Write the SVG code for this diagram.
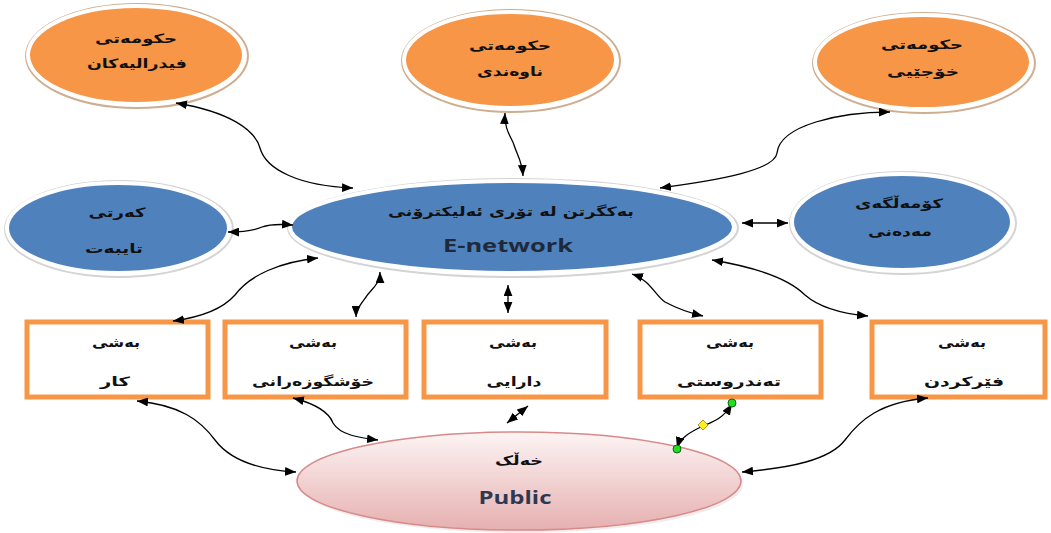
<svg xmlns="http://www.w3.org/2000/svg" width="1051" height="533" viewBox="0 0 1051 533">
<defs>
<marker id="ah" viewBox="0 0 10 8" refX="10" refY="4" markerWidth="11" markerHeight="9" markerUnits="userSpaceOnUse" orient="auto-start-reverse">
<path d="M0,0 L10,4 L0,8 Z" fill="#000"/>
</marker>
<linearGradient id="pg" x1="0" y1="0" x2="0" y2="1">
<stop offset="0" stop-color="#fdf4f4"/>
<stop offset="1" stop-color="#e6b0b0"/>
</linearGradient>
<style>
.org{fill:#F79646;stroke:#fff;stroke-width:4}
.blu{fill:#4F81BD;stroke:#fff;stroke-width:4}
.rimO{fill:none;stroke:#cfae90;stroke-width:2}
.rimB{fill:none;stroke:#d4d4d4;stroke-width:2}
.box{fill:#fff;stroke:#F79646;stroke-width:5}
.ar{font-family:"DejaVu Sans",sans-serif;font-weight:bold;font-size:13px;fill:#111;text-anchor:middle}
.en{font-family:"Open Sans","Liberation Sans",sans-serif;font-weight:bold;font-size:17px;fill:#1e2a3a;text-anchor:middle}
.c{fill:none;stroke:#000;stroke-width:1.3;marker-start:url(#ah);marker-end:url(#ah)}
</style>
</defs>
<rect width="1051" height="533" fill="#fff"/>

<g id="gov-federal">
<ellipse class="rimO" cx="137" cy="56" rx="111" ry="52"/>
<ellipse class="org" cx="136" cy="55" rx="108" ry="49"/>
<text class="ar" x="136" y="43" textLength="82" lengthAdjust="spacingAndGlyphs">حکومەتی</text>
<text class="ar" x="137" y="68" textLength="100" lengthAdjust="spacingAndGlyphs">فیدرالیەکان</text>
</g>

<g id="gov-central">
<ellipse class="rimO" cx="511" cy="61" rx="109" ry="51"/>
<ellipse class="org" cx="510" cy="60" rx="106" ry="48"/>
<text class="ar" x="510" y="50" textLength="82" lengthAdjust="spacingAndGlyphs">حکومەتی</text>
<text class="ar" x="510" y="76" textLength="66" lengthAdjust="spacingAndGlyphs">ناوەندی</text>
</g>

<g id="gov-local">
<ellipse class="rimO" cx="924" cy="63" rx="111" ry="50"/>
<ellipse class="org" cx="923" cy="62" rx="108" ry="47"/>
<text class="ar" x="922" y="49" textLength="82" lengthAdjust="spacingAndGlyphs">حکومەتی</text>
<text class="ar" x="923" y="76" textLength="72" lengthAdjust="spacingAndGlyphs">خۆجێیی</text>
</g>

<g id="private-sector">
<ellipse class="rimB" cx="119" cy="229" rx="114" ry="48"/>
<ellipse class="blu" cx="118" cy="228" rx="111" ry="45"/>
<text class="ar" x="117" y="217" textLength="57" lengthAdjust="spacingAndGlyphs">کەرتی</text>
<text class="ar" x="114" y="253" textLength="58" lengthAdjust="spacingAndGlyphs">تایبەت</text>
</g>

<g id="e-network">
<ellipse class="rimB" cx="513" cy="228" rx="225" ry="49"/>
<ellipse class="blu" cx="512" cy="227" rx="222" ry="46"/>
<text class="ar" x="511" y="216" textLength="246" lengthAdjust="spacingAndGlyphs">بەکگرتن لە تۆری ئەلیکترۆنی</text>
<text class="en" x="508" y="252" textLength="130" lengthAdjust="spacingAndGlyphs">E-network</text>
</g>

<g id="civil-society">
<ellipse class="rimB" cx="903" cy="223" rx="113" ry="51"/>
<ellipse class="blu" cx="902" cy="222" rx="110" ry="48"/>
<text class="ar" x="899" y="208" textLength="88" lengthAdjust="spacingAndGlyphs">کۆمەڵگەی</text>
<text class="ar" x="900" y="236" textLength="64" lengthAdjust="spacingAndGlyphs">مەدەنی</text>
</g>

<g id="dept-work">
<rect class="box" x="27" y="322" width="181" height="75"/>
<text class="ar" x="116" y="347" textLength="48" lengthAdjust="spacingAndGlyphs">بەشی</text>
<text class="ar" x="115" y="386" textLength="30" lengthAdjust="spacingAndGlyphs">کار</text>
</g>

<g id="dept-welfare">
<rect class="box" x="225" y="322" width="181" height="75"/>
<text class="ar" x="313" y="347" textLength="48" lengthAdjust="spacingAndGlyphs">بەشی</text>
<text class="ar" x="313" y="386" textLength="122" lengthAdjust="spacingAndGlyphs">خۆشگوزەرانی</text>
</g>

<g id="dept-finance">
<rect class="box" x="424" y="322" width="182" height="75"/>
<text class="ar" x="513" y="347" textLength="48" lengthAdjust="spacingAndGlyphs">بەشی</text>
<text class="ar" x="514" y="386" textLength="55" lengthAdjust="spacingAndGlyphs">دارایی</text>
</g>

<g id="dept-health">
<rect class="box" x="640" y="322" width="181" height="75"/>
<text class="ar" x="730" y="347" textLength="48" lengthAdjust="spacingAndGlyphs">بەشی</text>
<text class="ar" x="729" y="386" textLength="104" lengthAdjust="spacingAndGlyphs">تەندروستی</text>
</g>

<g id="dept-education">
<rect class="box" x="872" y="322" width="173" height="75"/>
<text class="ar" x="962" y="347" textLength="48" lengthAdjust="spacingAndGlyphs">بەشی</text>
<text class="ar" x="964" y="386" textLength="80" lengthAdjust="spacingAndGlyphs">فێرکردن</text>
</g>

<g id="public">
<ellipse cx="521" cy="484" rx="222" ry="49" fill="#e9e0e0" opacity="0.6"/>
<ellipse cx="519" cy="481" rx="222" ry="49" fill="url(#pg)" stroke="#d88a8a" stroke-width="1.5"/>
<text class="ar" x="519" y="465" textLength="48" lengthAdjust="spacingAndGlyphs">خەڵک</text>
<text class="en" x="515" y="504" textLength="73" lengthAdjust="spacingAndGlyphs" style="fill:#2e3852">Public</text>
</g>

<g id="connectors">
<path class="c" d="M176,103 C230,112 255,130 260,148 C266,170 300,186 353,188"/>
<path class="c" d="M505,113 C504,130 512,138 514,145 C517,155 522,160 523,176"/>
<path class="c" d="M660,188 C720,180 775,170 777,153 C780,125 840,112 890,112"/>
<path class="c" d="M228,232 C245,232 255,230 262,227 C270,224 280,224 293,225"/>
<path class="c" d="M742,223 L788,223"/>
<path class="c" d="M318,258 C280,262 250,275 235,295 C220,312 195,318 173,321"/>
<path class="c" d="M380,272 C380,285 370,290 366,297 C360,305 356,310 356,317"/>
<path class="c" d="M508,285 L508,313"/>
<path class="c" d="M632,274 C650,280 655,295 665,302 C680,310 690,313 703,316"/>
<path class="c" d="M712,260 C760,268 790,280 805,295 C820,308 845,314 868,316"/>
<path class="c" d="M137,401 C180,405 200,420 215,440 C230,460 260,470 296,472"/>
<path class="c" d="M293,398 C320,405 330,415 333,423 C340,435 360,438 378,440"/>
<path class="c" d="M507,423 L528,406"/>
<path class="c" d="M732,404 C722,420 712,422 703,426 C690,432 680,438 677,448"/>
<path class="c" d="M928,398 C880,402 860,420 845,440 C830,460 790,468 742,472"/>
<circle cx="732" cy="403" r="4" fill="#22dd22" stroke="#116611" stroke-width="1"/>
<circle cx="677" cy="449" r="4" fill="#22dd22" stroke="#116611" stroke-width="1"/>
<path d="M703,420 L708,425 L703,430 L698,425 Z" fill="#ffee22" stroke="#998800" stroke-width="0.8"/>
</g>
</svg>
